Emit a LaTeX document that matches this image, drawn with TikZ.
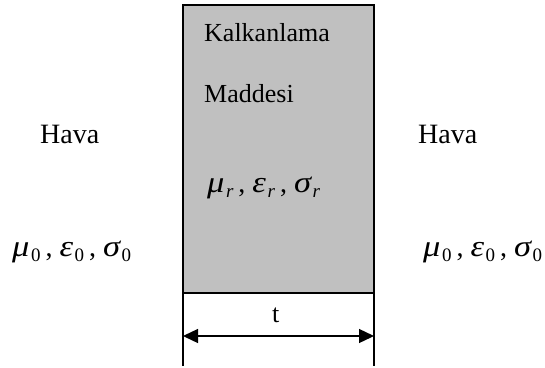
\documentclass[tikz,border=0pt]{standalone}
\usepackage{fontspec}
\setmainfont{Liberation Serif}
\usetikzlibrary{arrows.meta}
\definecolor{slabgray}{RGB}{192,192,192}
\newcommand{\gsym}[2]{\scalebox{1.15}[1]{\fontsize{30}{30}\selectfont\itshape #1}\kern1.5pt\raisebox{-5pt}{\fontsize{19}{19}\selectfont #2}}
\newcommand{\gsep}{\kern5pt{\fontsize{28}{28}\selectfont ,}\kern7pt}
\begin{document}
\begin{tikzpicture}[x=1pt,y=-1pt,
  txt/.style={inner sep=0pt, anchor=base west, font=\fontsize{26}{30}\selectfont},
  bigtxt/.style={inner sep=0pt, anchor=base west, font=\fontsize{28}{32}\selectfont},
  edge/.style={line width=1.8pt},
  dim/.style={line width=1.3pt, {Triangle[length=15pt,width=14pt]}-{Triangle[length=15pt,width=14pt]}}]
\useasboundingbox (0,0) rectangle (545,367);
\node[draw, line width=2pt, fill=slabgray, minimum width=191pt, minimum height=288pt,
      inner sep=0pt, outer sep=0pt, anchor=north west] (slab) at (183,5) {};
\coordinate (bl) at (183,366);
\coordinate (br) at (374,366);
\coordinate (al) at (183,336);
\coordinate (ar) at (374,336);
\draw[edge] (slab.south west) -- (bl);
\draw[edge] (slab.south east) -- (br);
\draw[dim] (al) -- (ar);
\node[txt] (t) at (272,322) {t};
\node[txt] (k1) at (204,41) {Kalkanlama};
\node[txt] (k2) at (204,102) {Maddesi};
\node[bigtxt] (mr) at (207,192) {\gsym{μ}{\textit{r}}\gsep\gsym{ε}{\textit{r}}\gsep\gsym{σ}{\textit{r}}};
\node[bigtxt] (hl) at (40,143) {Hava};
\node[bigtxt] (hr) at (418,143) {Hava};
\node[bigtxt] (ml) at (12,256) {\gsym{μ}{0}\gsep\gsym{ε}{0}\gsep\gsym{σ}{0}};
\node[bigtxt] (mrr) at (423,256) {\gsym{μ}{0}\gsep\gsym{ε}{0}\gsep\gsym{σ}{0}};
\end{tikzpicture}
\end{document}
